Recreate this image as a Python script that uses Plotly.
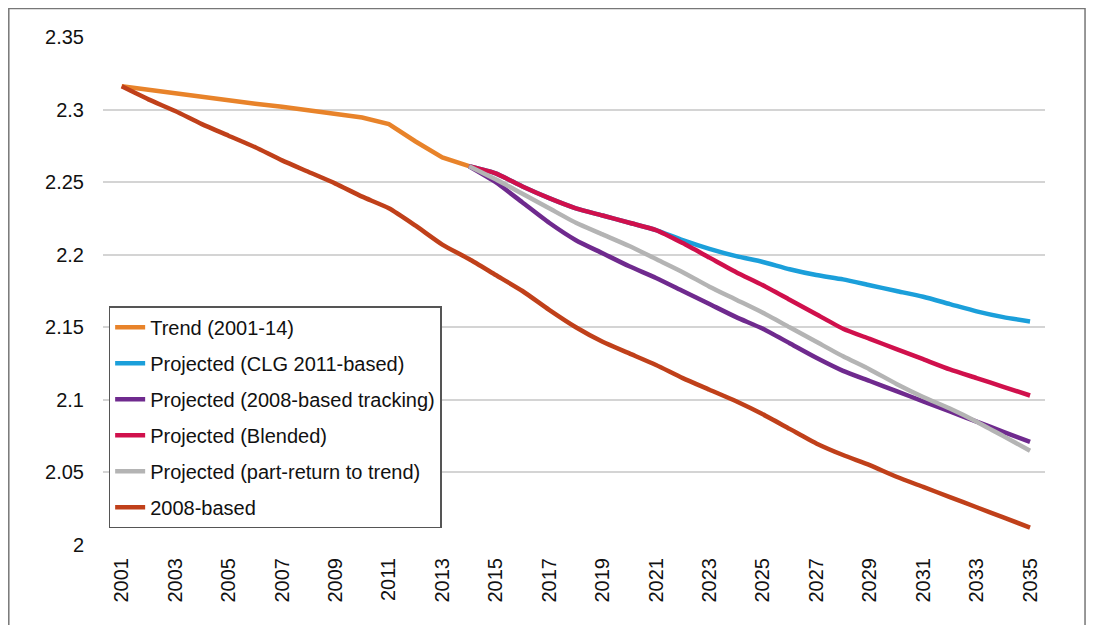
import plotly.graph_objects as go

# Years
years_trend = list(range(2001, 2015))
years_proj = list(range(2014, 2036))
years_all = list(range(2001, 2036))

# Trend (2001-14)
trend = [2.316, 2.3135, 2.311, 2.309, 2.3065, 2.304, 2.302, 2.2995, 2.297, 2.2945,
         2.290, 2.278, 2.267, 2.261]

# Projections from 2014
clg_2011 = [2.261, 2.256, 2.247, 2.239, 2.232, 2.227, 2.222, 2.217, 2.210, 2.204,
            2.199, 2.195, 2.190, 2.186, 2.183, 2.179, 2.175, 2.171, 2.166, 2.161,
            2.157, 2.154]
tracking_2008 = [2.261, 2.250, 2.236, 2.222, 2.210, 2.201, 2.192, 2.184, 2.175, 2.166,
                 2.157, 2.149, 2.139, 2.129, 2.120, 2.113, 2.106, 2.099, 2.092, 2.085,
                 2.078, 2.071]
blended = [2.261, 2.256, 2.247, 2.239, 2.232, 2.227, 2.222, 2.217, 2.208, 2.198,
           2.188, 2.179, 2.169, 2.159, 2.149, 2.142, 2.135, 2.128, 2.121, 2.115,
           2.109, 2.103]
part_return = [2.261, 2.252, 2.242, 2.232, 2.222, 2.214, 2.206, 2.197, 2.188, 2.178,
               2.169, 2.160, 2.150, 2.140, 2.130, 2.121, 2.111, 2.102, 2.094, 2.085,
               2.075, 2.065]

# 2008-based
based_2008 = [2.316, 2.307, 2.299, 2.290, 2.282, 2.274, 2.265, 2.257, 2.249, 2.240,
              2.232, 2.220, 2.207, 2.197, 2.186, 2.175, 2.162, 2.150, 2.140, 2.132,
              2.124, 2.115, 2.107, 2.099, 2.090, 2.080, 2.070, 2.062, 2.055, 2.047,
              2.040, 2.033, 2.026, 2.019, 2.012]

y_ticks = [2, 2.05, 2.1, 2.15, 2.2, 2.25, 2.3, 2.35]
x_ticks = list(range(2001, 2036, 2))

series = [
    ("Trend (2001-14)", years_trend, trend, "#E8832A", "linear"),
    ("Projected (CLG 2011-based)", years_proj, clg_2011, "#1B9FDA", "spline"),
    ("Projected (2008-based tracking)", years_proj, tracking_2008, "#6F2A8E", "spline"),
    ("Projected (Blended)", years_proj, blended, "#D0104C", "spline"),
    ("Projected (part-return to trend)", years_proj, part_return, "#B4B4B4", "spline"),
    ("2008-based", years_all, based_2008, "#C0401A", "spline"),
]

fig = go.Figure()
for i, (name, xs, ys, color, shape) in enumerate(series):
    fig.add_trace(go.Scatter(
        x=xs, y=ys, mode="lines", name=name, legendgroup=str(i),
        line=dict(color=color, width=4.5, shape=shape, smoothing=0.6)
    ))

font = "Liberation Sans, Arial, sans-serif"
fig.update_layout(
    width=1096, height=625,
    margin=dict(l=95, r=59, t=29, b=88),
    paper_bgcolor="white", plot_bgcolor="white",
    font=dict(family=font, size=20, color="#111"),
    showlegend=True,
    legend=dict(
        x=0.006, y=0.47, xanchor="left", yanchor="top",
        bgcolor="white", bordercolor="#555", borderwidth=1.5,
        tracegroupgap=7, font=dict(size=20, family=font),
    ),
    shapes=[dict(type="rect", xref="paper", yref="paper",
                 x0=-0.1, x1=1.0425, y0=-0.3, y1=1.056,
                 line=dict(color="#777", width=1.5), layer="below")],
)
fig.update_xaxes(
    range=[2000.3, 2035.56], tickvals=x_ticks, ticktext=[str(t) for t in x_ticks],
    tickangle=-90, showgrid=False, zeroline=False, showline=False, ticks="",
    ticklabelstandoff=8, tickfont=dict(size=20),
)
fig.update_yaxes(
    range=[2, 2.35], tickvals=y_ticks, ticktext=[str(t) for t in y_ticks],
    showgrid=True, gridcolor="#D4D4D4", gridwidth=1.5, zeroline=False,
    showline=False, ticks="", ticklabelstandoff=18, tickfont=dict(size=20),
)

fig.write_html("out.html")
